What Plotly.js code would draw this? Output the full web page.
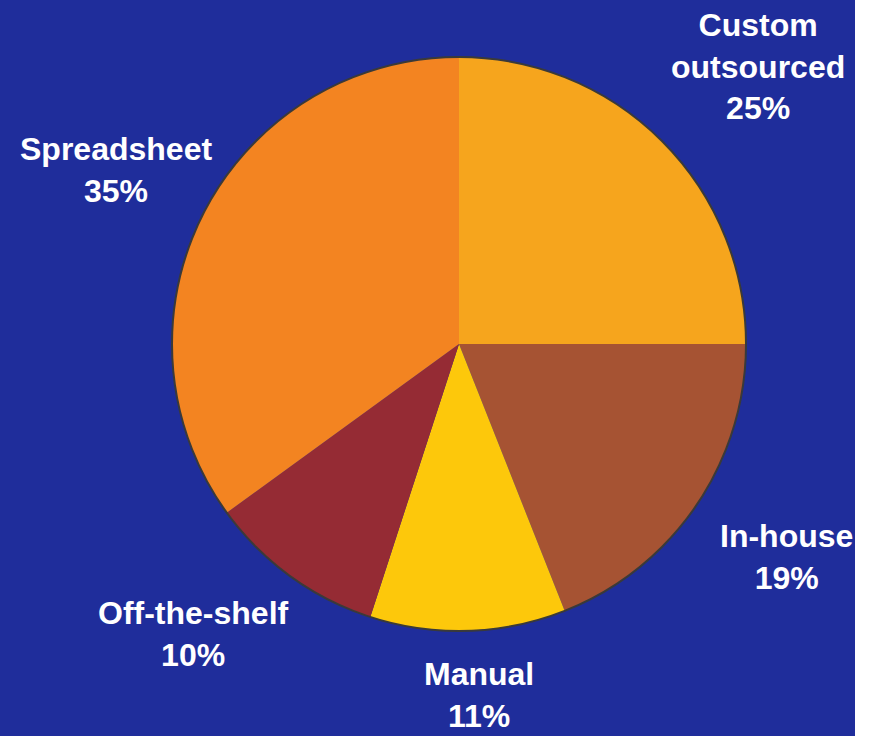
<!DOCTYPE html>
<html>
<head>
<meta charset="utf-8">
<script src="https://cdn.plot.ly/plotly-3.0.1.min.js"></script>
<style>
html,body{margin:0;padding:0;background:#ffffff;}
#chart{width:855px;height:736px;}
</style>
</head>
<body>
<div id="chart"></div>
<script>
// Data
var categories = ["Custom outsourced", "In-house", "Manual", "Off-the-shelf", "Spreadsheet"];
var labelLines = ["Custom<br>outsourced", "In-house", "Manual", "Off-the-shelf", "Spreadsheet"];
var shares = [25, 19, 11, 10, 35];
var sliceColors = ["#F6A51D", "#A65333", "#FDC80B", "#952B34", "#F38421"];

// Label placement (layout, pixel positions of label centres)
var W = 855, H = 736;
var labelPos = [
  {x: 758, y: 66},
  {x: 786, y: 557},
  {x: 479, y: 695},
  {x: 193, y: 634},
  {x: 116, y: 170}
];

var total = shares.reduce(function(a, b){ return a + b; }, 0);
var annotations = categories.map(function(c, i){
  var pct = Math.round(shares[i] / total * 100);
  return {
    text: labelLines[i] + "<br>" + pct + "%",
    xref: "paper", yref: "paper",
    x: labelPos[i].x / W, y: 1 - labelPos[i].y / H,
    xanchor: "center", yanchor: "middle",
    showarrow: false, align: "center",
    font: {family: "Liberation Sans, Arial, sans-serif", size: 32, color: "#ffffff", weight: "bold"}
  };
});

var cx = 459, cy = 344, r = 287;
var trace = {
  type: "pie",
  labels: categories,
  values: shares,
  sort: false,
  direction: "clockwise",
  rotation: 0,
  textinfo: "none",
  hoverinfo: "label+percent",
  marker: {colors: sliceColors, line: {width: 0}},
  domain: {x: [(cx - r) / W, (cx + r) / W], y: [(H - cy - r) / H, (H - cy + r) / H]},
  showlegend: false
};

var layout = {
  width: W, height: H,
  margin: {l: 0, r: 0, t: 0, b: 0},
  paper_bgcolor: "#1F2D9B",
  plot_bgcolor: "#1F2D9B",
  showlegend: false,
  annotations: annotations,
  shapes: [{
    type: "circle", xref: "paper", yref: "paper", layer: "above",
    x0: (cx - r) / W, x1: (cx + r) / W,
    y0: (H - cy - r) / H, y1: (H - cy + r) / H,
    line: {color: "#3a3a3a", width: 2}
  }]
};

Plotly.newPlot("chart", [trace], layout, {displayModeBar: false, staticPlot: true});
</script>
</body>
</html>
